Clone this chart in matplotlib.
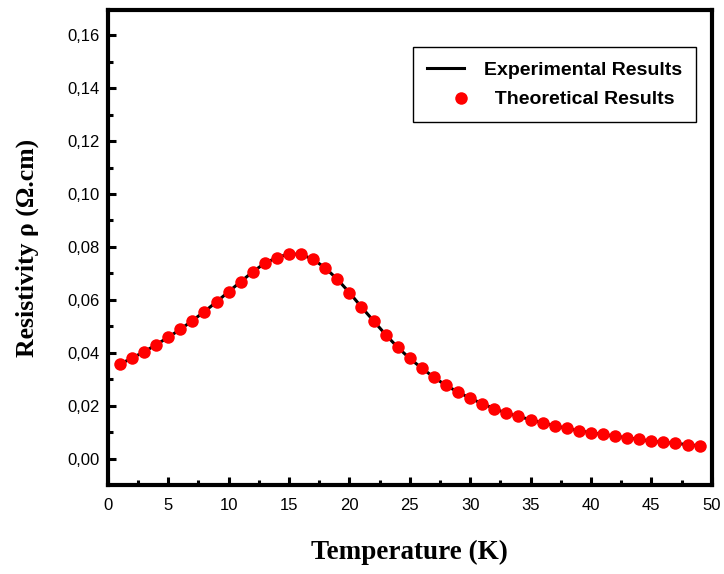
import numpy as np
import matplotlib
matplotlib.use("Agg")
import matplotlib.pyplot as plt
from matplotlib.ticker import MultipleLocator, FuncFormatter
from matplotlib.legend_handler import HandlerLine2D

# values
temperature = list(range(1, 50))
rho_experimental = [0.0357, 0.0381, 0.0404, 0.0431, 0.0459, 0.0489, 0.0522, 0.0556, 0.0593, 0.0631,
                    0.0669, 0.0706, 0.0739, 0.0760, 0.0774, 0.0772, 0.0753, 0.0721, 0.0678, 0.0628,
                    0.0573, 0.0521, 0.0469, 0.0421, 0.0379, 0.0342, 0.0308, 0.0277, 0.0252, 0.0229,
                    0.0208, 0.0190, 0.0172, 0.0161, 0.0147, 0.0136, 0.0125, 0.0115, 0.0106, 0.0099,
                    0.0092, 0.0086, 0.0079, 0.0074, 0.0066, 0.0063, 0.0058, 0.0054, 0.0049]
rho_theoretical = list(rho_experimental)  # points sit on the measured curve

fig = plt.figure(figsize=(7.24, 5.74), dpi=100)
ax = fig.add_axes([0.149, 0.155, 0.834, 0.8276])

ax.plot(temperature, rho_experimental, color="black", linewidth=2.2, label="Experimental Results", zorder=2)
pts, = ax.plot(temperature, rho_theoretical, linestyle="none", marker="o", markersize=9,
               color="#ff0000", markeredgewidth=0, label="  Theoretical Results", zorder=3)

ax.set_xlim(0, 50)
ax.set_ylim(-0.0099, 0.1695)

ax.xaxis.set_major_locator(MultipleLocator(5))
ax.xaxis.set_minor_locator(MultipleLocator(2.5))
ax.yaxis.set_major_locator(MultipleLocator(0.02))
ax.yaxis.set_minor_locator(MultipleLocator(0.01))
ax.yaxis.set_major_formatter(FuncFormatter(lambda v, p: "{:.2f}".format(v).replace(".", ",")))

ax.tick_params(which="both", direction="in", top=False, right=False, width=2.2)
ax.tick_params(which="major", length=6)
ax.tick_params(which="minor", length=3.5)
for lab in ax.get_xticklabels() + ax.get_yticklabels():
    lab.set_family("Liberation Sans")
    lab.set_fontsize(12)
ax.tick_params(axis="x", pad=9)
ax.tick_params(axis="y", pad=6)

for s in ax.spines.values():
    s.set_linewidth(3)

ax.set_xlabel("Temperature (K)", family="Liberation Serif", fontweight="bold", fontsize=19.5, labelpad=20)
ax.set_ylabel("Resistivity \u03c1 (\u03a9.cm)", family="Liberation Serif", fontweight="bold", fontsize=18.5, labelpad=20)

# marker of the second entry sits at the right end of the handle, as in the original
leg = ax.legend(loc="upper right", bbox_to_anchor=(0.9735, 0.922), borderaxespad=0, fancybox=False,
                framealpha=1, edgecolor="black", handlelength=1.9, handletextpad=1.03, borderpad=0.72,
                labelspacing=0.62, prop={"family": "Liberation Sans", "weight": "bold", "size": 14},
                handler_map={pts: HandlerLine2D(xpad=1.6)})
leg.get_frame().set_linewidth(1)

fig.savefig("out.png", dpi=100)
